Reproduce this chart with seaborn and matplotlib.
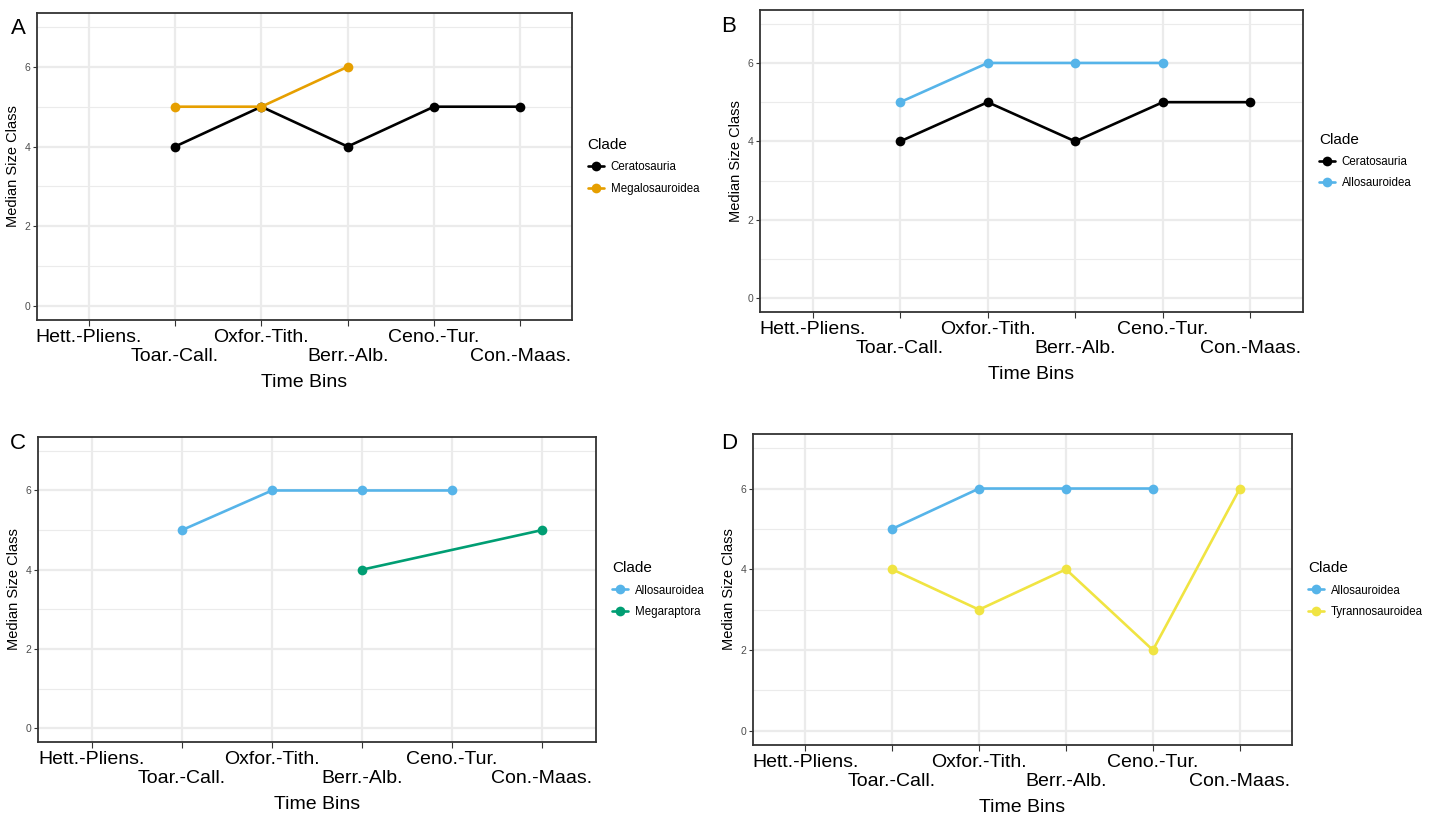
import matplotlib
matplotlib.use("Agg")
import matplotlib.pyplot as plt
import seaborn as sns
import pandas as pd
from matplotlib.ticker import MultipleLocator

bins = ["Hett.-Pliens.", "Toar.-Call.", "Oxfor.-Tith.", "Berr.-Alb.", "Ceno.-Tur.", "Con.-Maas."]

# Panel A
a_cera_bins = ["Toar.-Call.", "Oxfor.-Tith.", "Berr.-Alb.", "Ceno.-Tur.", "Con.-Maas."]
a_cera_vals = [4, 5, 4, 5, 5]
a_mega_bins = ["Toar.-Call.", "Oxfor.-Tith.", "Berr.-Alb."]
a_mega_vals = [5, 5, 6]
# Panel B
b_cera_bins = ["Toar.-Call.", "Oxfor.-Tith.", "Berr.-Alb.", "Ceno.-Tur.", "Con.-Maas."]
b_cera_vals = [4, 5, 4, 5, 5]
b_allo_bins = ["Toar.-Call.", "Oxfor.-Tith.", "Berr.-Alb.", "Ceno.-Tur."]
b_allo_vals = [5, 6, 6, 6]
# Panel C
c_allo_bins = ["Toar.-Call.", "Oxfor.-Tith.", "Berr.-Alb.", "Ceno.-Tur."]
c_allo_vals = [5, 6, 6, 6]
c_megr_bins = ["Berr.-Alb.", "Con.-Maas."]
c_megr_vals = [4, 5]
# Panel D
d_allo_bins = ["Toar.-Call.", "Oxfor.-Tith.", "Berr.-Alb.", "Ceno.-Tur."]
d_allo_vals = [5, 6, 6, 6]
d_tyra_bins = ["Toar.-Call.", "Oxfor.-Tith.", "Berr.-Alb.", "Ceno.-Tur.", "Con.-Maas."]
d_tyra_vals = [4, 3, 4, 2, 6]

colors = {
    "Ceratosauria": "#000000",
    "Megalosauroidea": "#E69F00",
    "Allosauroidea": "#56B4E9",
    "Megaraptora": "#009E73",
    "Tyrannosauroidea": "#F0E442",
}

panels = [
    ("A", [("Ceratosauria", a_cera_bins, a_cera_vals), ("Megalosauroidea", a_mega_bins, a_mega_vals)],
     [37/1434, 1-320/816, 535/1434, 307/816], (11, 28)),
    ("B", [("Ceratosauria", b_cera_bins, b_cera_vals), ("Allosauroidea", b_allo_bins, b_allo_vals)],
     [760/1434, 1-312/816, 543/1434, 302/816], (721, 26)),
    ("C", [("Allosauroidea", c_allo_bins, c_allo_vals), ("Megaraptora", c_megr_bins, c_megr_vals)],
     [38/1434, 1-742/816, 558/1434, 305/816], (10, 444)),
    ("D", [("Allosauroidea", d_allo_bins, d_allo_vals), ("Tyrannosauroidea", d_tyra_bins, d_tyra_vals)],
     [753/1434, 1-745/816, 539/1434, 311/816], (721, 444)),
]

sns.set_theme(style="white")
plt.rcParams["font.family"] = ["Liberation Sans", "DejaVu Sans"]
plt.rcParams["text.color"] = "black"
plt.rcParams["axes.labelcolor"] = "black"

fig = plt.figure(figsize=(14.34, 8.16), dpi=100)

for letter, series, rect, lpos in panels:
    ax = fig.add_axes(rect)
    rows = []
    for clade, bl, vals in series:
        for b, v in zip(bl, vals):
            rows.append({"Clade": clade, "bin": bins.index(b), "val": v})
    df = pd.DataFrame(rows)
    order = [s[0] for s in series]
    sns.lineplot(data=df, x="bin", y="val", hue="Clade", hue_order=order,
                 palette={k: colors[k] for k in order}, marker="o", markersize=7,
                 markeredgewidth=0, linewidth=1.9, ax=ax, zorder=3)
    ax.set_xlim(-0.6, len(bins) - 0.4)
    ax.set_ylim(-0.35, 7.35)
    ax.set_xticks(range(len(bins)))
    ax.set_xticklabels(bins, fontsize=14, color="black")
    ax.set_yticks([0, 2, 4, 6])
    ax.yaxis.set_minor_locator(MultipleLocator(1))
    ax.tick_params(axis="y", labelsize=7.5, colors="#4D4D4D", length=3, width=0.8, left=True, pad=2)
    ax.tick_params(axis="x", length=4, width=0.8, bottom=True, color="#333333", pad=2.5)
    ax.tick_params(axis="y", which="major", color="#333333")
    ax.tick_params(axis="y", which="minor", length=0)
    for i, tk in enumerate(ax.xaxis.get_major_ticks()):
        if i % 2:
            tk.set_pad(16.5)
    ax.grid(True, which="major", color="#EBEBEB", linewidth=1.6, zorder=0)
    ax.grid(True, which="minor", axis="y", color="#EBEBEB", linewidth=0.8, zorder=0)
    ax.set_axisbelow(True)
    for sp in ax.spines.values():
        sp.set_color("#333333")
        sp.set_linewidth(1.3)
    ax.set_xlabel("Time Bins", fontsize=14, labelpad=6, color="black")
    ax.set_ylabel("Median Size Class", fontsize=10.5, labelpad=3, color="black")
    leg = ax.legend(title="Clade", loc="center left", bbox_to_anchor=(1.01, 0.5),
                    frameon=False, fontsize=8.3, title_fontsize=11,
                    handlelength=1.4, handletextpad=0.6, labelspacing=0.8)
    leg._legend_box.align = "left"
    leg.get_title().set_color("black")
    for t in leg.get_texts():
        t.set_color("black")
    fig.text(lpos[0] / 1434, 1 - lpos[1] / 816, letter, fontsize=16,
             ha="left", va="center", color="black")

fig.savefig("out.png", dpi=100)
